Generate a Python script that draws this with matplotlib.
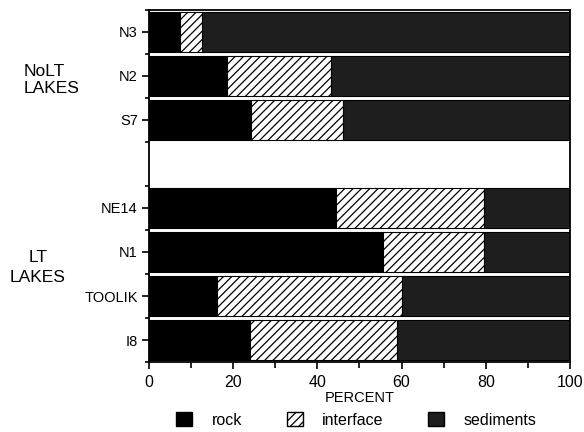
import numpy as np
import matplotlib.pyplot as plt
from matplotlib.patches import Patch

# lakes, top to bottom ('' is the empty slot between the two groups)
lakes = ['N3', 'N2', 'S7', '', 'NE14', 'N1', 'TOOLIK', 'I8']
rock = [7.5, 18.5, 24.3, 0, 44.5, 55.5, 16.2, 24.0]
interface = [5.2, 24.8, 21.9, 0, 35.0, 24.0, 44.0, 35.0]
sediments = [87.3, 56.7, 53.8, 0, 20.5, 20.5, 39.8, 41.0]
xticks = [0, 20, 40, 60, 80, 100]

plt.rcParams['font.family'] = ['Liberation Sans', 'DejaVu Sans']
plt.rcParams['hatch.linewidth'] = 0.9

fig = plt.figure(figsize=(5.84, 4.32), dpi=100)
ax = fig.add_axes([0.255, 0.162, 0.721, 0.815])

y = np.arange(len(lakes))
r = np.array(rock)
i = np.array(interface)
s = np.array(sediments)
show = np.array([l != '' for l in lakes])

h = 0.9
ax.barh(y[show], r[show], height=h, color='black', edgecolor='black', lw=0.8)
ax.barh(y[show], i[show], left=r[show], height=h, color='white',
        edgecolor='black', hatch='////', lw=0.8)
ax.barh(y[show], s[show], left=(r + i)[show], height=h, color='#1e1e1e',
        edgecolor='black', lw=0.8)

ax.set_ylim(len(lakes) - 0.5, -0.5)
ax.set_xlim(0, 100)
ax.set_yticks(y[show])
ax.set_yticklabels([l for l in lakes if l])
ax.set_yticks(np.arange(-0.5, len(lakes)), minor=True)
ax.set_xticks(xticks)
ax.set_xticks(np.arange(10, 100, 20), minor=True)
ax.tick_params(axis='y', length=5, width=1.2, labelsize=10.5, pad=3)
ax.tick_params(axis='y', which='minor', length=3, width=1.2)
ax.tick_params(axis='x', length=5, width=1.2, labelsize=11.5, pad=4)
ax.tick_params(axis='x', which='minor', length=4, width=1.2)
for sp in ax.spines.values():
    sp.set_linewidth(1.3)
ax.set_xlabel('PERCENT', fontsize=10.5, labelpad=1)

fig.text(0.041, 0.815, 'NoLT\nLAKES', ha='left', va='center', fontsize=12.5,
         linespacing=1.15)
fig.text(0.065, 0.38, 'LT\nLAKES', ha='center', va='center', fontsize=12.5,
         linespacing=1.4)

handles = [Patch(facecolor='black', edgecolor='black', label='rock'),
           Patch(facecolor='white', edgecolor='black', hatch='////', label='interface'),
           Patch(facecolor='#1e1e1e', edgecolor='black', label='sediments')]
fig.legend(handles=handles, loc='center', bbox_to_anchor=(0.61, 0.028), ncol=3,
           frameon=False, fontsize=11.5, handlelength=1.0, handleheight=1.0,
           columnspacing=2.8, handletextpad=1.2)

fig.savefig('out.png', dpi=100)
